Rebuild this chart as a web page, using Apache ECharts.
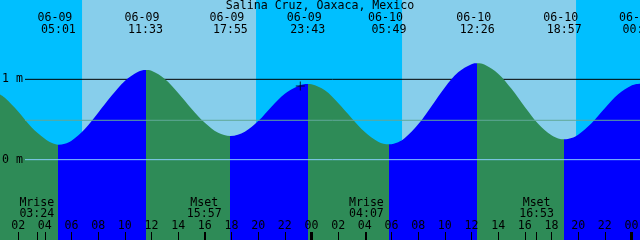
<!DOCTYPE html>
<html><head><meta charset="utf-8">
<script src="https://cdn.jsdelivr.net/npm/echarts@6/dist/echarts.min.js"></script>
<style>html,body{margin:0;padding:0;background:#00BFFF}#c{width:640px;height:240px}</style>
</head><body><div id="c"></div>
<script>
// ---- data ----
const title = 'Salina Cruz, Oaxaca, Mexico';
// hours since 06-09 00:00, tide height in metres
const tideTimes = [0.6375, 1, 2, 3, 4, 4.5, 5.017, 5.5, 6, 7, 8, 9, 10, 11, 11.55, 12, 13, 14, 15, 16, 17, 17.917, 19, 20, 21, 22, 23, 23.717, 24, 25, 26, 27, 28, 29, 29.817, 30.5, 31, 32, 33, 34, 35, 36, 36.433, 37, 38, 39, 40, 41, 42, 42.5, 42.95, 43.5, 44, 45, 46, 47, 48, 48.6375];
const tideHeights = [0.81, 0.77, 0.60, 0.405, 0.26, 0.21, 0.186, 0.198, 0.237, 0.382, 0.585, 0.795, 0.98, 1.095, 1.116, 1.106, 1.005, 0.83, 0.635, 0.46, 0.335, 0.295, 0.349, 0.48, 0.66, 0.82, 0.918, 0.942, 0.938, 0.863, 0.705, 0.52, 0.344, 0.224, 0.191, 0.217, 0.269, 0.44, 0.666, 0.899, 1.088, 1.189, 1.20, 1.182, 1.071, 0.882, 0.657, 0.448, 0.303, 0.265, 0.254, 0.27, 0.311, 0.453, 0.64, 0.814, 0.924, 0.945];
const eventTimes = [5.017, 11.55, 17.917, 23.717, 29.817, 36.433, 42.95, 48.63];
const eventDates = ['06-09', '06-09', '06-09', '06-09', '06-10', '06-10', '06-10', '06-11'];
const eventClock = ['05:01', '11:33', '17:55', '23:43', '05:49', '12:26', '18:57', '00:38'];
const eventKinds = ['low', 'high', 'low', 'high', 'low', 'high', 'low', 'high'];
const moonTimes = [3.4, 15.95, 28.117, 40.883];
const moonNames = ['Mrise', 'Mset', 'Mrise', 'Mset'];
const moonClock = ['03:24', '15:57', '04:07', '16:53'];
const sunriseTimes = [6.79, 30.79];
const sunsetTimes = [19.84, 43.84];
const hourTicks = [2, 4, 6, 8, 10, 12, 14, 16, 18, 20, 22, 24, 26, 28, 30, 32, 34, 36, 38, 40, 42, 44, 46, 48];
const midnightTicks = [24, 48];
const levelHigh = 1, levelMsl = 0.49, levelDatum = 0;
const nowPoint = [23.16, 0.917];

// ---- layout / style ----
const tMin = 0.6375, tMax = 48.6375;
const lineStart = tMin + 25 / 13.333;
const FONT = 'DejaVu Sans Mono';
const FS = 11.6;
const C = { night: '#00BFFF', day: '#87CEEB', rise: '#0000FF', fall: '#2E8B57', msl: '#60A898', datum: '#87CEFA' };

const pieces = [];
let prev = -Infinity;
eventTimes.forEach((t, i) => {
  pieces.push({ gte: prev, lt: t, color: eventKinds[i] === 'high' ? C.rise : C.fall });
  prev = t;
});
pieces.push({ gte: prev, color: C.fall });

const pad = n => String(n).padStart(2, '0');
const idxOf = (arr, v) => arr.findIndex(a => Math.abs(a - v) < 1e-6);
const txt = { color: '#000', fontFamily: FONT, fontSize: FS };
const noLine = { show: false, onZero: false };

const chart = echarts.init(document.getElementById('c'), null, { renderer: 'canvas' });
chart.setOption({
  animation: false,
  backgroundColor: C.night,
  title: { text: title, left: 'center', top: 0, padding: 0, textStyle: Object.assign({ fontWeight: 'normal', lineHeight: 12 }, txt) },
  grid: { left: 0, right: 0, top: -1, bottom: 0, containLabel: false, outerBoundsMode: 'none' },
  xAxis: [
    { type: 'value', min: tMin, max: tMax, position: 'bottom', z: 5,
      axisLine: noLine, splitLine: { show: false },
      axisTick: { show: true, inside: true, length: 8, customValues: hourTicks.concat(moonTimes), lineStyle: { color: '#000', width: 1 } },
      axisLabel: Object.assign({ inside: true, margin: 8, lineHeight: 12, customValues: hourTicks, formatter: v => pad(Math.round(v) % 24) }, txt) },
    { type: 'value', min: tMin, max: tMax, position: 'bottom', z: 5,
      axisLine: noLine, splitLine: { show: false },
      axisTick: { show: true, inside: true, length: 8, customValues: midnightTicks, lineStyle: { color: '#000', width: 3 } },
      axisLabel: { show: false } },
    { type: 'value', min: tMin, max: tMax, position: 'bottom', z: 5,
      axisLine: noLine, splitLine: { show: false }, axisTick: { show: false },
      axisLabel: Object.assign({ inside: true, margin: 21, lineHeight: 11, customValues: moonTimes,
        formatter: v => { const i = idxOf(moonTimes, v); return i < 0 ? '' : moonNames[i] + '\n' + moonClock[i]; } }, txt) },
    { type: 'value', min: tMin, max: tMax, position: 'top', z: 5,
      axisLine: noLine, splitLine: { show: false }, axisTick: { show: false },
      axisLabel: Object.assign({ inside: true, margin: 12.5, lineHeight: 12, customValues: eventTimes,
        formatter: v => { const i = idxOf(eventTimes, v); return i < 0 ? '' : eventDates[i] + ' \n' + eventClock[i]; } }, txt) }
  ],
  yAxis: { type: 'value', min: -1, max: 2, interval: 1, z: 5,
    axisLine: noLine, axisTick: { show: false }, splitLine: { show: false },
    axisLabel: Object.assign({ inside: true, margin: 2, formatter: v => (v === 0 || v === 1) ? v + ' m' : '' }, txt) },
  visualMap: { type: 'piecewise', show: false, dimension: 0, seriesIndex: 1, pieces: pieces },
  series: [
    { type: 'line', z: 1, silent: true, symbol: 'none', data: [[lineStart, levelHigh], [tMax, levelHigh]],
      lineStyle: { color: '#000', width: 1 },
      markArea: { silent: true, z: 0, itemStyle: { color: C.day }, data: sunriseTimes.map((s, i) => [{ xAxis: s }, { xAxis: sunsetTimes[i] }]) } },
    { type: 'line', z: 2, silent: true, symbol: 'none', smooth: 0.35,
      data: tideTimes.map((t, i) => [t, tideHeights[i]]),
      lineStyle: { width: 0 }, areaStyle: { opacity: 1, origin: 'start' } },
    { type: 'line', z: 3, silent: true, symbol: 'none', data: [[lineStart, levelMsl], [tMax, levelMsl]], lineStyle: { color: C.msl, width: 1 } },
    { type: 'line', z: 3, silent: true, symbol: 'none', data: [[lineStart, levelDatum], [tMax, levelDatum]], lineStyle: { color: C.datum, width: 1 } },
    { type: 'scatter', z: 4, silent: true, symbol: 'path://M0,4h9v1h-9z M4,0h1v9h-1z', symbolSize: 9,
      itemStyle: { color: '#000' }, data: [nowPoint] }
  ]
});
</script></body></html>
